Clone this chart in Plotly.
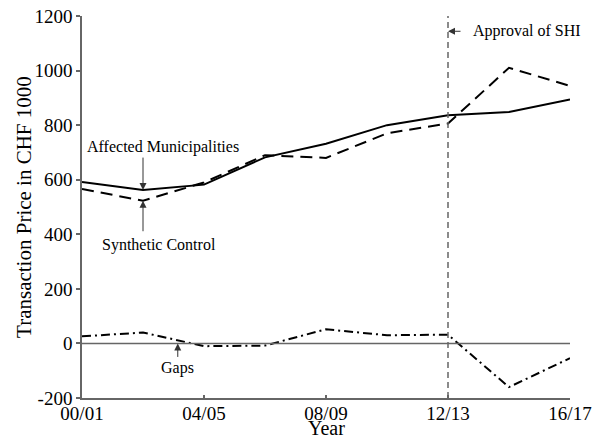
import plotly.graph_objects as go

periods = ["00/01", "02/03", "04/05", "06/07", "08/09", "10/11", "12/13", "14/15", "16/17"]
affected = [592, 562, 582, 682, 732, 800, 836, 848, 894]
synthetic = [566, 523, 590, 690, 680, 770, 806, 1010, 944]
gaps = [26, 40, -10, -8, 52, 30, 32, -160, -54]
tick_labels = ["00/01", "04/05", "08/09", "12/13", "16/17"]
y_ticks = [-200, 0, 200, 400, 600, 800, 1000, 1200]
y_tick_labels = ["-200", "0", "200", "400", "600", "800", "1000", "1200"]

xs = list(range(len(periods)))
FONT = "Liberation Serif"
AX = "#666666"

fig = go.Figure()
fig.add_trace(go.Scatter(x=xs, y=affected, mode="lines", line=dict(color="black", width=2), name="Affected"))
fig.add_trace(go.Scatter(x=xs, y=synthetic, mode="lines", line=dict(color="black", width=2, dash="12px,7px"), name="Synthetic"))
fig.add_trace(go.Scatter(x=xs, y=gaps, mode="lines", line=dict(color="black", width=2, dash="9px,4px,2px,4px"), name="Gaps"))

# zero line
fig.add_shape(type="line", x0=0, x1=8, y0=0, y1=0, xref="x", yref="y", line=dict(color=AX, width=1.5))
# approval line
fig.add_shape(type="line", x0=6, x1=6, y0=-200, y1=1200, xref="x", yref="y", line=dict(color=AX, width=1.5, dash="6px,4px"))

ann_font = dict(family=FONT, size=16, color="black")
arrow = dict(text="", showarrow=True, arrowhead=2, arrowsize=1.4, arrowwidth=1, arrowcolor="#333")
# arrows
fig.add_annotation(x=1, y=affected[1], ax=0, ay=-34, **arrow)
fig.add_annotation(x=1, y=synthetic[1], ax=0, ay=32, **arrow)
fig.add_annotation(x=1.57, y=0, ax=0, ay=15, **arrow)
fig.add_annotation(x=6, y=1144, ax=14, ay=0, **arrow)
# labels
fig.add_annotation(x=1, y=affected[1], xshift=20, yshift=43, text="Affected Municipalities", showarrow=False, font=ann_font)
fig.add_annotation(x=1, y=synthetic[1], xshift=16, yshift=-44, text="Synthetic Control", showarrow=False, font=ann_font)
fig.add_annotation(x=1.57, y=0, yshift=-25, text="Gaps", showarrow=False, font=ann_font)
fig.add_annotation(x=6, y=1144, xshift=23, text="Approval of SHI", showarrow=False, xanchor="left", font=ann_font)

# axis titles
fig.add_annotation(xref="paper", yref="paper", x=0.5, y=-0.079, yanchor="middle", text="Year",
                   showarrow=False, font=dict(family=FONT, size=20, color="black"))
fig.add_annotation(xref="paper", yref="paper", x=-0.119, y=0.5, xanchor="center", yanchor="middle",
                   textangle=-90, text="Transaction Price in CHF 1000",
                   showarrow=False, font=dict(family=FONT, size=21, color="black"))

fig.update_layout(
    width=597, height=441,
    margin=dict(l=82, r=27, t=16, b=43),
    plot_bgcolor="white", paper_bgcolor="white",
    showlegend=False,
    font=dict(family=FONT, size=19, color="black"),
)
fig.update_xaxes(range=[0, 8], tickvals=[0, 2, 4, 6, 8], ticktext=tick_labels, automargin=False,
                 showgrid=False, zeroline=False, showline=True, linecolor=AX, linewidth=1.5,
                 ticks="inside", ticklen=3, tickcolor=AX, tickwidth=1.5, ticklabelstandoff=-3)
fig.update_yaxes(range=[-200, 1200], tickvals=y_ticks, ticktext=y_tick_labels, automargin=False,
                 showgrid=False, zeroline=False, showline=True, linecolor=AX, linewidth=1.5,
                 ticks="outside", ticklen=4, tickcolor=AX, tickwidth=1.5)

fig.write_html("out.html")
